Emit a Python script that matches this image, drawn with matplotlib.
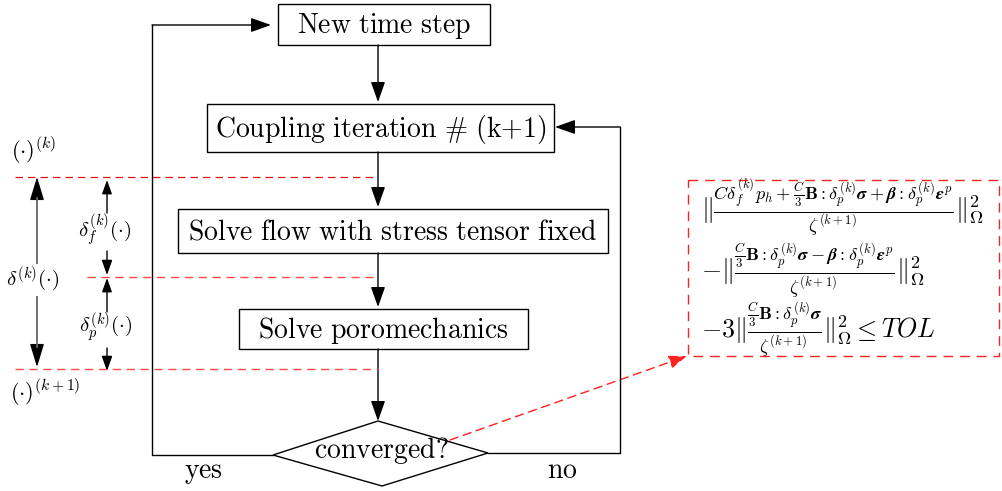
import matplotlib.pyplot as plt
from matplotlib.patches import Rectangle, Polygon, FancyArrowPatch

plt.rcParams['mathtext.fontset'] = 'cm'

# flow boxes: label, (left, top, right, bottom) in pixel space
box_labels = [r"$\mathrm{New\ time\ step}$",
              r"$\mathrm{Coupling\ iteration\ \#\ (k{+}1)}$",
              r"$\mathrm{Solve\ flow\ with\ stress\ tensor\ fixed}$",
              r"$\mathrm{Solve\ poromechanics}$"]
box_extents = [(278, 4, 490, 45), (207, 104, 554, 152),
               (178, 209, 608, 253), (239, 309, 528, 349)]
decision_label = r"$\mathrm{converged?}$"
branch_labels = [r"$\mathrm{yes}$", r"$\mathrm{no}$"]

delta_labels = [r"$\delta^{(k)}(\cdot)$", r"$\delta_f^{(k)}(\cdot)$", r"$\delta_p^{(k)}(\cdot)$"]
level_labels = [r"$(\cdot)^{(k)}$", r"$(\cdot)^{(k+1)}$"]

criterion = [
    r"$\|\frac{C\delta_f^{(k)}p_h+\frac{C}{3}\mathbf{B}{:}\delta_p^{(k)}\boldsymbol{\sigma}+\boldsymbol{\beta}{:}\delta_p^{(k)}\boldsymbol{\epsilon}^p}{\zeta^{(k+1)}}\|_\Omega^2$",
    r"$-\|\frac{\frac{C}{3}\mathbf{B}{:}\delta_p^{(k)}\boldsymbol{\sigma}-\boldsymbol{\beta}{:}\delta_p^{(k)}\boldsymbol{\epsilon}^p}{\zeta^{(k+1)}}\|_\Omega^2$",
    r"$-3\|\frac{\frac{C}{3}\mathbf{B}{:}\delta_p^{(k)}\boldsymbol{\sigma}}{\zeta^{(k+1)}}\|_\Omega^2 \leq TOL$",
]

W, H = 1002, 491
fig = plt.figure(figsize=(W / 100, H / 100), dpi=100)
ax = fig.add_axes([0, 0, 1, 1])
ax.set_xlim(0, W)
ax.set_ylim(H, 0)
ax.axis('off')


def arrow(x0, y0, x1, y1, hl=0.62, hw=0.22, lw=1.0, color='black', ls='-'):
    ax.add_patch(FancyArrowPatch((x0, y0), (x1, y1),
                                 arrowstyle=f'-|>,head_length={hl},head_width={hw}',
                                 mutation_scale=20, shrinkA=0, shrinkB=0,
                                 lw=lw, color=color, linestyle=ls))


cx = 378
for lab, (l, t, r, b) in zip(box_labels, box_extents):
    ax.add_patch(Rectangle((l, t), r - l, b - t, fill=False, ec='black', lw=1.0))
    ax.text((l + r) / 2, (t + b) / 2 + 1, lab, ha='center', va='center', fontsize=20)

# arrows between boxes
for (_, _, _, b), (_, t2, _, _) in zip(box_extents[:-1], box_extents[1:]):
    arrow(cx, b, cx, t2 - 2)
arrow(cx, 349, cx, 421)

# decision diamond
ax.add_patch(Polygon([(273, 455), (378, 421), (488, 453), (382, 486)],
                     closed=True, fill=False, ec='black', lw=1.0))
ax.text(381, 451, decision_label, ha='center', va='center', fontsize=20)

# yes loop
ax.plot([273, 152, 152], [455, 455, 25], color='black', lw=1.0)
arrow(152, 25, 271, 25)
ax.text(203, 472, branch_labels[0], ha='center', va='center', fontsize=20)
# no loop
ax.plot([488, 620, 620], [453, 453, 127], color='black', lw=1.0)
arrow(620, 127, 555, 127)
ax.text(562, 470, branch_labels[1], ha='center', va='center', fontsize=20)

# level lines
ax.plot([15, cx], [177, 177], color='#e01010', lw=0.9, dashes=(6, 4))
ax.plot([87, cx], [277, 277], color='#ff4a4a', lw=1.0, dashes=(6, 4))
ax.plot([15, cx], [369, 369], color='#ff4a4a', lw=1.0, dashes=(6, 4))
ax.text(34, 151, level_labels[0], ha='center', va='center', fontsize=16)
ax.text(45, 393, level_labels[1], ha='center', va='center', fontsize=16)

# delta arrows
for y0, y1 in [(198, 263), (297, 347)]:
    ax.plot([37, 37], [y0, y1], color='#666666', lw=1.3)
arrow(37, 200, 37, 177, hl=0.72, hw=0.22)
arrow(37, 345, 37, 367, hl=0.72, hw=0.22)
ax.text(33, 279, delta_labels[0], ha='center', va='center', fontsize=15)
arrow(107, 213, 107, 180, hl=0.42, hw=0.15)
arrow(107, 251, 107, 275, hl=0.45, hw=0.16)
ax.text(105, 230, delta_labels[1], ha='center', va='center', fontsize=15)
arrow(107, 312, 107, 278, hl=0.42, hw=0.15)
arrow(107, 348, 107, 371, hl=0.45, hw=0.16)
ax.text(106, 327, delta_labels[2], ha='center', va='center', fontsize=15)

# convergence criterion box
ax.add_patch(Rectangle((688, 180), 311, 176, fill=False, ec='#ff2020', lw=1.0,
                       linestyle=(0, (7, 5))))
arrow(450, 440, 687, 356, hl=0.55, hw=0.2, color='#ff2020', ls=(0, (6, 4)))
for y, line in zip([208, 271, 330], criterion):
    ax.text(701, y, line, ha='left', va='center', fontsize=18.7)

fig.savefig('out.png', dpi=100)
